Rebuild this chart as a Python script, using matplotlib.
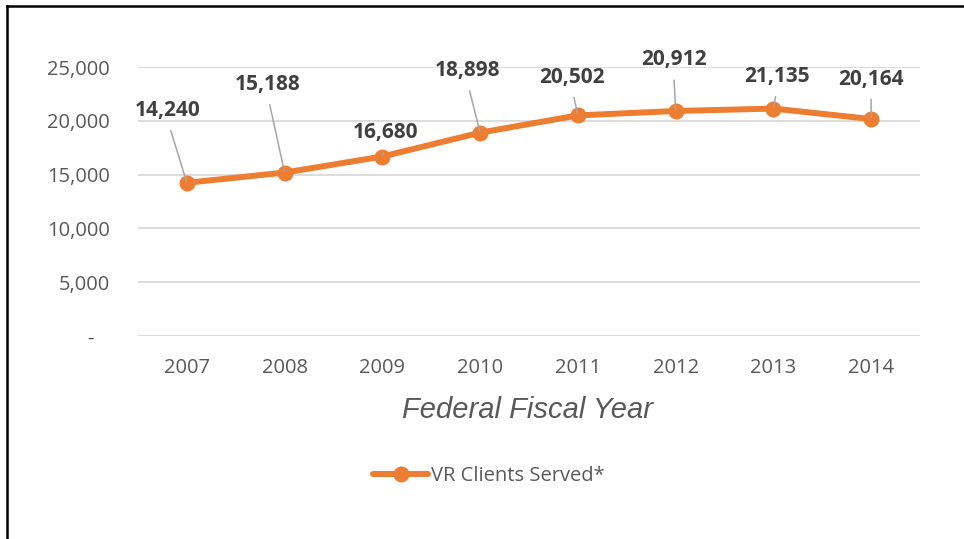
import numpy as np
import matplotlib
matplotlib.use("Agg")
import matplotlib.pyplot as plt
from matplotlib.lines import Line2D
from matplotlib.ticker import FuncFormatter

# data
years = ["2007", "2008", "2009", "2010", "2011", "2012", "2013", "2014"]
clients = [14240, 15188, 16680, 18898, 20502, 20912, 21135, 20164]
series_name = "VR Clients Served*"
x_title = "Federal Fiscal Year"
y_ticks = [0, 5000, 10000, 15000, 20000, 25000]

# where each data label sits relative to its point (pixels)
label_offsets = [(-19, 72), (-17, 88), (3, 24), (-13, 62),
                 (-6, 38), (-2, 51), (4, 32), (0, 40)]

ORANGE = "#ED7D31"
GREY_TXT = "#595959"
LABEL_TXT = "#404040"

plt.rcParams['font.family'] = ['Open Sans', 'DejaVu Sans']

fig = plt.figure(figsize=(9.64, 5.39), dpi=100)
ax = fig.add_axes([138 / 964, 1 - 336 / 539, 782 / 964, 269 / 539])

x = np.arange(len(years))
ax.plot(x, clients, color=ORANGE, lw=4.3, marker='o', markersize=10.5,
        solid_capstyle='round', solid_joinstyle='round', label=series_name,
        zorder=3)

for xi, v, (dx, dy) in zip(x, clients, label_offsets):
    ax.annotate(f"{v:,}", xy=(xi, v), xytext=(dx, dy), textcoords='offset pixels',
                ha='center', va='center', fontsize=15, fontweight='bold',
                color=LABEL_TXT, zorder=4,
                arrowprops=dict(arrowstyle='-', color='#A6A6A6', lw=1.1,
                                relpos=(0.5, 0.0), shrinkA=5, shrinkB=1))

ax.set_xlim(-0.5, len(years) - 0.5)
ax.set_ylim(0, 25000)
ax.set_xticks(x)
ax.set_xticklabels(years)
ax.set_yticks(y_ticks)
ax.yaxis.set_major_formatter(FuncFormatter(lambda v, p: "-   " if v == 0 else f"{int(v):,}"))

ax.tick_params(axis='both', length=0, labelsize=14.5, labelcolor=GREY_TXT)
ax.tick_params(axis='x', pad=16)
ax.tick_params(axis='y', pad=20)
ax.grid(axis='y', color='#D9D9D9', lw=1.3)
ax.set_axisbelow(True)
for s in ax.spines.values():
    s.set_visible(False)

fig.text(528 / 964, 1 - 410 / 539, x_title, ha='center', va='center',
         fontsize=21, style='italic', color=GREY_TXT,
         family=['Liberation Sans', 'DejaVu Sans'])

fig.legend(loc='center', bbox_to_anchor=(489 / 964, 1 - 476 / 539),
           frameon=False, fontsize=14.5, handlelength=2.7, handletextpad=0.15,
           labelcolor=GREY_TXT)

# outer frame (only left and top edges fall inside the picture)
fig.add_artist(Line2D([7 / 964, 7 / 964], [0, 1 - 6 / 539], color='black', lw=1.8))
fig.add_artist(Line2D([7 / 964, 1], [1 - 6 / 539, 1 - 6 / 539], color='black', lw=1.8))

fig.savefig("out.png", dpi=100)
